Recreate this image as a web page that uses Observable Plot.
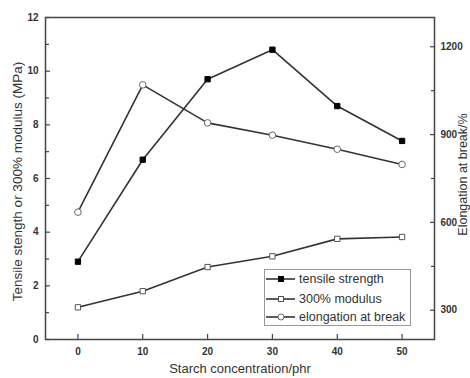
<!DOCTYPE html>
<html><head><meta charset="utf-8">
<script src="https://cdn.jsdelivr.net/npm/d3@7"></script>
<script src="https://cdn.jsdelivr.net/npm/@observablehq/plot@0.6"></script>
<style>
body{margin:0;background:#fff;font-family:"Liberation Sans",Arial,sans-serif;}
#wrap{position:relative;width:470px;height:378px;}
#legend{position:absolute;left:264px;top:269px;}
</style></head><body><div id="wrap"></div>
<script>
const concentration = [0, 10, 20, 30, 40, 50];
const tensileStrength = [2.9, 6.7, 9.7, 10.8, 8.7, 7.4];
const modulus300 = [1.2, 1.8, 2.7, 3.1, 3.75, 3.82];
const elongationAtBreak = [635, 1070, 940, 898, 850, 798];
const seriesNames = ["tensile strength", "300% modulus", "elongation at break"];
const xTicks = [0, 10, 20, 30, 40, 50];
const leftTicks = [0, 2, 4, 6, 8, 10, 12];
const leftMinor = [1, 3, 5, 7, 9, 11];
const rightTicks = [300, 600, 900, 1200];
const rightMinor = [450, 750, 1050];
const xLabel = "Starch concentration/phr";
const leftLabel = "Tensile stength or 300% modulus (MPa)";
const rightLabel = "Elongation at break/%";

const leftDomain = [0, 12], rightDomain = [200, 1300];
const toLeft = v => (v - rightDomain[0]) / (rightDomain[1] - rightDomain[0]) * (leftDomain[1] - leftDomain[0]) + leftDomain[0];
const fromLeft = y => (y - leftDomain[0]) / (leftDomain[1] - leftDomain[0]) * (rightDomain[1] - rightDomain[0]) + rightDomain[0];

const tensileRows = concentration.map((c, i) => ({c, v: tensileStrength[i]}));
const modulusRows = concentration.map((c, i) => ({c, v: modulus300[i]}));
const elongRows = concentration.map((c, i) => ({c, v: toLeft(elongationAtBreak[i])}));

const ink = "#333";
const axisInk = "#444";
const tickFont = {fontSize: 10, fontWeight: "bold", fill: "#333"};
const noText = () => "";

const chart = Plot.plot({
  width: 470, height: 378,
  marginLeft: 45, marginRight: 36, marginTop: 17, marginBottom: 39,
  style: {fontFamily: "'Liberation Sans', Arial, sans-serif", background: "#fff", color: ink},
  x: {domain: [-5, 55]},
  y: {domain: leftDomain},
  marks: [
    // bottom axis: labels, then inward ticks
    Plot.axisX(xTicks, {tickSize: 0, tickPadding: 8, label: null, ...tickFont}),
    Plot.axisX(xTicks, {tickSize: 5, dy: -5, tickFormat: noText, label: null, stroke: axisInk, strokeWidth: 1.2}),
    // left axis
    Plot.axisY(leftTicks, {anchor: "left", tickSize: 0, tickPadding: 7, label: null, ...tickFont}),
    Plot.axisY(leftTicks, {anchor: "left", tickSize: 5, dx: 5, tickFormat: noText, label: null, stroke: axisInk, strokeWidth: 1.2}),
    Plot.axisY(leftMinor, {anchor: "left", tickSize: 4, dx: 4, tickFormat: noText, label: null, stroke: axisInk, strokeWidth: 1.2}),
    // right axis
    Plot.axisY(rightTicks.map(toLeft), {anchor: "right", tickSize: 0, tickPadding: 6, label: null, tickFormat: d => String(Math.round(fromLeft(d))), ...tickFont}),
    Plot.axisY(rightTicks.map(toLeft), {anchor: "right", tickSize: 5, dx: -5, tickFormat: noText, label: null, stroke: axisInk, strokeWidth: 1.2}),
    Plot.axisY(rightMinor.map(toLeft), {anchor: "right", tickSize: 4, dx: -4, tickFormat: noText, label: null, stroke: axisInk, strokeWidth: 1.2}),
    Plot.frame({stroke: axisInk, strokeWidth: 1.5}),
    Plot.text([xLabel], {frameAnchor: "bottom", dy: 33, text: d => d, fontSize: 13, fill: ink}),
    Plot.text([leftLabel], {frameAnchor: "left", dx: -28, dy: 3, rotate: -90, textAnchor: "middle", text: d => d, fontSize: 13.5, fill: ink}),
    Plot.text([rightLabel], {frameAnchor: "right", dx: 28.5, dy: -4, rotate: -90, textAnchor: "middle", text: d => d, fontSize: 12.5, fill: ink}),
    Plot.line(tensileRows, {x: "c", y: "v", stroke: ink, strokeWidth: 1.6}),
    Plot.line(modulusRows, {x: "c", y: "v", stroke: ink, strokeWidth: 1.6}),
    Plot.line(elongRows, {x: "c", y: "v", stroke: ink, strokeWidth: 1.6}),
    Plot.dot(tensileRows, {x: "c", y: "v", symbol: "square", r: 3, fill: "#000", stroke: "#000", strokeWidth: 1}),
    Plot.dot(modulusRows, {x: "c", y: "v", symbol: "square", r: 3, fill: "#fff", stroke: "#555", strokeWidth: 1}),
    Plot.dot(elongRows, {x: "c", y: "v", symbol: "circle", r: 3.3, fill: "#fff", stroke: "#666", strokeWidth: 1})
  ]
});
document.getElementById("wrap").appendChild(chart);

// legend
const legend = d3.select("#wrap").append("svg").attr("id", "legend")
  .attr("width", 148).attr("height", 58)
  .style("font-family", "'Liberation Sans', Arial, sans-serif");
legend.append("rect").attr("x", 0.5).attr("y", 0.5).attr("width", 146).attr("height", 56)
  .attr("fill", "#fff").attr("stroke", "#999").attr("stroke-width", 1);
const markerStyle = [
  {shape: "square", fill: "#000", stroke: "#000"},
  {shape: "square", fill: "#fff", stroke: "#555"},
  {shape: "circle", fill: "#fff", stroke: "#666"}
];
const rowY = [10, 30, 48];
seriesNames.forEach((name, i) => {
  const g = legend.append("g").attr("transform", `translate(0,${rowY[i]})`);
  g.append("line").attr("x1", 2).attr("x2", 31).attr("y1", 0).attr("y2", 0).attr("stroke", ink).attr("stroke-width", 1.6);
  const m = markerStyle[i];
  if (m.shape === "square") g.append("rect").attr("x", 14.5).attr("y", -2.5).attr("width", 5).attr("height", 5).attr("fill", m.fill).attr("stroke", m.stroke);
  else g.append("circle").attr("cx", 17).attr("cy", 0).attr("r", 3).attr("fill", m.fill).attr("stroke", m.stroke);
  g.append("text").attr("x", 35).attr("y", 0).attr("dy", "0.35em").attr("font-size", 12.5).attr("fill", ink).text(name);
});
</script>
</body></html>
